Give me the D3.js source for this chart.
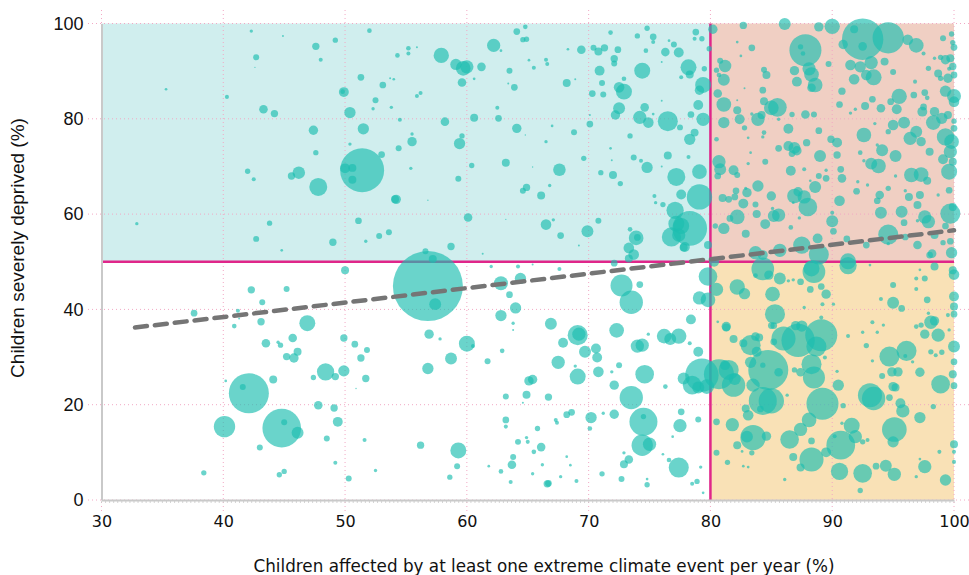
<!DOCTYPE html>
<html>
<head>
<meta charset="utf-8">
<script src="https://cdn.jsdelivr.net/npm/d3@7"></script>
<style>
  html, body { margin: 0; padding: 0; background: #fff; }
  svg { display: block; }
</style>
</head>
<body>
<div id="chart"></div>
<script>
// [affected %, deprived %, children (relative size)]
const topLeft = [
  [42.3,98.4,0.23],[44.9,97.4,0.08],[47.6,95.2,1.1],[49.2,96.5,0.58],[52.0,98.5,0.44],[42.7,92.9,0.73],[42.6,90.8,0.04],[48.0,92.4,0.33],
  [35.3,86.2,0.15],[40.3,84.6,0.33],[43.3,82.0,1.5],[44.2,81.1,1.1],[49.9,85.6,2.0],[49.8,85.7,0.44],[50.4,81.3,2.6],[51.3,88.7,0.91],
  [53.1,87.1,0.91],[53.7,88.5,0.08],[54.0,88.3,0.15],[52.5,83.9,0.73],[52.3,82.1,0.23],[53.8,82.4,0.23],[47.4,77.6,1.8],[51.5,77.9,2.6],
  [50.4,74.7,0.23],[47.6,72.9,0.58],[53.0,72.5,0.91],[51.4,69.2,39.5],[50.0,69.6,2.0],[50.6,69.7,1.3],[50.6,67.2,1.3],[42.0,69.0,0.58],
  [42.5,67.3,0.33],[46.2,68.7,3.2],[45.6,68.0,1.1],[47.8,65.7,6.6],[54.1,63.1,1.3],[32.9,58.0,0.23],[43.8,58.1,0.58],[42.7,54.8,0.73],
  [44.8,52.4,0.15],[49.0,54.1,1.1],[51.1,58.6,0.91],[52.8,55.4,0.73],[53.6,56.2,0.73],[51.7,54.3,0.23],
  [64.1,98.3,0.91],[64.8,99.3,0.44],[64.6,96.6,0.58],[64.9,96.7,0.58],[62.2,95.4,3.6],[62.8,94.3,0.15],[57.9,93.3,4.8],[55.2,94.8,0.44],
  [55.2,93.7,0.33],[55.9,95.0,0.08],[54.3,93.3,0.44],[59.1,91.4,2.6],[59.7,90.6,4.4],[60.0,90.9,3.6],[59.6,87.6,1.5],[61.2,90.9,1.5],
  [60.6,88.4,0.15],[63.5,90.1,0.73],[63.9,86.6,0.91],[63.4,87.4,0.08],[65.1,92.3,0.15],[65.5,90.7,0.33],[66.5,92.4,0.33],[66.6,91.5,0.33],
  [68.3,94.6,0.15],[69.4,94.5,1.5],[68.2,87.5,1.3],[68.9,88.3,0.08],[55.9,84.8,0.33],[56.2,85.4,0.33],[54.5,79.8,0.33],[58.2,79.4,1.5],
  [60.6,80.2,1.3],[62.5,82.3,0.33],[62.6,80.1,0.91],[64.1,78.0,1.8],[67.0,78.5,0.15],[68.8,77.2,0.73],[70.1,78.9,0.91],[70.1,80.8,0.08],
  [64.8,76.6,0.04],[66.5,75.2,0.23],[55.5,76.8,0.23],[55.5,75.2,1.8],[59.6,76.4,0.58],[59.4,74.8,2.6],[54.4,73.8,0.73],[60.4,70.2,0.58],
  [63.2,70.8,1.3],[65.4,69.9,0.04],[67.6,69.3,3.2],[69.6,71.7,0.58],[55.4,69.6,0.23],[59.3,67.4,0.73],[64.6,64.9,0.73],[64.9,65.6,1.1],
  [66.8,66.0,0.23],[66.1,63.9,1.3],[54.2,63.1,1.8],[56.8,62.9,0.04],[60.1,59.3,1.5],[63.2,58.9,0.04],[66.5,57.8,2.3],[67.1,58.8,0.23],
  [67.7,55.5,0.91],[58.7,53.2,1.1],[61.3,51.7,0.08],[56.6,52.2,0.73],[57.2,50.6,1.3],[69.9,56.4,2.9],[70.8,58.6,0.73],[69.2,53.4,0.08],
  [71.8,98.1,0.44],[70.4,94.9,0.73],[70.8,94.1,1.3],[71.3,94.9,1.1],[72.4,94.5,0.91],[74.0,97.4,0.58],[74.8,99.0,0.58],[75.3,97.2,0.91],
  [75.3,96.1,0.33],[74.7,94.3,0.44],[76.3,94.0,1.5],[76.6,96.4,0.15],[77.0,95.6,0.73],[77.4,93.9,2.0],[72.1,92.6,1.1],[72.1,91.6,0.73],
  [70.9,90.1,2.0],[71.1,87.5,0.73],[74.4,90.1,5.2],[72.9,88.4,0.44],[72.5,86.6,2.3],[72.9,85.7,5.2],[70.3,85.3,0.91],[71.2,85.1,0.73],
  [76.0,91.9,0.08],[77.6,88.7,0.33],[72.5,82.2,2.9],[72.2,80.8,1.8],[74.6,82.4,1.5],[74.2,80.3,3.6],[74.9,79.2,2.3],[76.5,79.5,8.2],
  [77.5,78.2,0.73],[76.0,83.8,0.08],[75.3,81.0,0.15],[73.4,76.4,0.58],[71.8,73.8,0.15],[73.7,71.9,0.73],[74.3,71.2,0.33],[74.8,69.8,2.6],
  [71.9,71.3,0.08],[76.5,72.3,1.3],[76.0,70.0,0.08],[72.0,68.2,1.3],[72.6,66.4,0.58],[71.0,68.7,0.58],[77.2,67.8,6.6],[77.6,64.1,2.0],
  [75.4,63.8,0.33],[75.5,62.4,0.23],[76.1,62.0,0.58],[77.1,60.8,6.1],[77.2,58.0,5.2],[77.6,57.5,5.2],[76.8,55.2,7.6],[77.4,55.6,3.6],
  [77.8,53.0,1.3],[73.9,55.0,4.4],[74.0,55.1,0.91],[73.4,56.8,0.44],[73.3,52.9,2.3],[73.7,51.5,2.3],[73.3,50.7,1.3],
  [78.2,90.8,5.2],[78.3,89.3,1.3],[78.8,98.2,0.91],[79.3,96.8,0.58],[78.7,96.8,0.33],[79.5,90.5,0.58],[79.4,87.1,5.2],[79.1,86.0,1.8],
  [79.0,82.9,2.0],[79.4,79.9,3.6],[78.4,80.9,0.91],[78.7,77.1,1.3],[78.3,75.7,2.6],[78.2,72.0,0.33],[79.1,68.9,4.4],[79.1,63.6,13.1],
  [78.3,57.0,24.5],[79.8,53.5,1.3],[77.9,53.1,2.0],[79.9,94.7,0.58]
];

const topRight = [
  [80.2,98.8,1.8],[82.7,99.6,1.1],[86.1,99.9,2.9],[88.9,99.3,1.8],[90.0,99.4,4.8],[87.8,94.4,20.9],[87.4,95.1,0.58],[87.6,93.7,0.44],
  [92.5,96.7,34.9],[94.6,97.0,20.0],[91.8,98.8,1.3],[92.5,95.2,1.5],[90.9,95.6,1.8],[96.2,96.6,2.3],[96.9,95.4,4.4],[83.4,94.9,0.91],
  [82.2,96.1,0.15],[82.5,93.2,0.15],[81.2,91.1,3.2],[80.8,92.2,0.73],[80.5,90.2,0.58],[80.7,89.2,0.44],[81.1,88.2,2.9],[84.4,90.3,0.73],
  [84.6,89.2,1.3],[86.9,90.1,1.8],[88.1,90.5,3.6],[88.3,89.3,4.4],[87.1,87.8,2.0],[88.6,87.1,4.4],[88.3,86.5,1.5],[89.7,91.5,0.73],
  [91.5,91.3,2.3],[92.3,90.9,2.6],[93.2,91.8,3.6],[93.4,88.7,5.2],[92.8,89.2,2.3],[91.8,88.3,2.3],[94.3,92.0,1.3],[95.0,89.8,0.73],
  [97.5,93.7,0.33],[98.4,92.7,0.23],[98.9,92.9,0.58],[99.1,96.9,0.73],[99.8,97.8,0.58],[99.9,96.0,0.58],[100.0,95.0,0.91],[99.3,92.4,1.8],
  [99.7,92.7,1.3],[99.9,91.0,1.1],[100.0,89.2,0.91],[98.7,89.5,1.3],[97.9,90.6,0.58],[96.8,87.8,0.33],[97.6,85.5,0.91],[99.3,85.8,2.6],
  [100.0,84.8,4.0],[100.0,83.6,2.3],[96.7,85.0,0.91],[95.5,84.7,4.8],[94.8,83.6,0.91],[93.3,84.1,0.91],[92.7,82.7,1.3],[94.0,82.2,1.5],
  [95.3,82.0,2.0],[90.8,85.8,1.1],[90.6,83.0,0.91],[91.5,81.2,0.23],[91.9,82.0,0.23],[84.3,86.0,0.91],[84.4,83.7,1.3],[85.0,82.3,4.4],
  [85.5,82.4,7.1],[82.2,81.8,1.3],[82.2,83.9,0.08],[82.8,86.4,0.08],[81.1,83.0,4.4],[80.6,85.3,1.5],[81.1,79.2,2.6],[82.4,79.9,2.0],
  [83.9,79.9,3.6],[84.2,80.8,1.3],[82.8,78.1,0.58],[85.6,79.9,0.23],[86.7,80.9,0.58],[87.8,80.9,1.5],[88.5,80.9,0.73],[86.4,77.9,2.0],
  [88.9,77.5,0.91],[84.4,77.1,0.44],[84.3,76.2,0.23],[83.1,76.0,0.15],[80.5,75.7,0.44],[86.4,74.3,2.0],[86.9,73.9,2.9],[87.1,73.3,1.8],
  [86.7,72.7,0.91],[85.6,73.8,0.91],[87.9,75.0,1.1],[89.0,72.2,2.9],[89.9,75.7,1.1],[90.4,75.0,2.0],[90.4,72.4,1.1],[92.6,76.6,4.4],
  [92.3,72.9,0.44],[92.6,71.2,0.23],[93.2,70.6,2.9],[93.8,70.1,4.4],[94.1,73.4,2.9],[95.2,72.2,2.9],[93.7,74.5,0.23],[94.6,77.3,0.58],
  [95.0,78.7,2.3],[95.9,79.2,2.9],[96.9,77.3,2.9],[96.4,75.9,3.6],[97.3,75.2,1.8],[98.0,73.1,1.3],[98.3,79.2,4.4],[99.0,80.1,2.6],
  [98.4,81.5,1.8],[99.5,80.8,1.3],[99.3,76.2,6.1],[99.8,75.2,4.4],[99.7,73.1,3.6],[99.1,71.5,2.0],[99.9,71.0,1.3],[99.6,68.9,5.2],
  [100.0,78.0,0.91],[100.0,79.5,0.58],[96.5,68.2,4.4],[97.3,68.3,4.4],[97.8,67.0,1.3],[95.2,68.0,0.23],[93.9,64.0,1.5],[94.6,65.4,0.58],
  [93.7,62.8,0.91],[94.0,60.3,2.9],[95.7,60.5,2.9],[96.0,64.9,0.23],[96.3,63.6,1.3],[97.0,61.9,1.3],[97.6,59.4,3.6],[97.9,58.4,3.6],
  [97.2,64.0,1.3],[98.7,64.0,0.23],[99.6,65.0,0.91],[99.7,60.1,8.2],[99.9,61.5,1.3],[98.4,55.6,1.3],[99.3,57.5,0.91],[99.7,54.3,0.91],
  [99.1,54.0,0.58],[99.8,51.9,2.6],[98.2,51.7,1.5],[98.0,51.4,0.91],[94.6,55.7,8.2],[95.9,58.2,0.91],[97.0,53.5,1.5],[97.0,58.6,0.23],
  [92.0,64.8,0.91],[90.6,62.8,2.3],[90.0,58.5,2.9],[90.1,56.4,0.91],[90.8,67.5,1.5],[90.7,69.4,0.91],[89.5,67.5,0.91],[88.6,65.7,2.9],
  [89.5,69.2,0.23],[88.9,68.0,0.73],[88.2,67.0,0.15],[86.6,69.1,2.0],[87.7,69.4,0.33],[87.7,63.6,3.6],[88.0,61.5,7.1],[86.9,63.8,4.4],
  [87.2,64.7,1.8],[86.8,62.4,0.15],[87.3,59.2,0.23],[85.0,63.8,1.8],[83.9,65.9,2.6],[83.0,64.5,1.8],[82.1,64.9,0.91],[82.0,63.6,0.91],
  [81.0,63.4,1.3],[81.5,63.1,0.91],[82.7,62.2,2.0],[83.7,62.0,0.73],[83.8,60.0,1.3],[82.2,59.4,4.4],[81.6,59.1,0.91],[81.1,57.0,2.6],
  [80.4,57.5,0.58],[84.5,57.9,2.0],[85.2,59.6,2.9],[85.6,59.8,3.6],[85.1,61.2,0.23],[82.9,55.9,1.3],[86.6,57.2,0.44],[90.0,60.3,0.33],
  [88.8,54.9,2.0],[87.5,53.5,6.1],[88.9,51.5,8.2],[91.2,54.8,0.91],[91.3,50.1,5.2],[85.7,52.4,3.6],[84.3,51.4,2.0],[83.7,51.9,3.6],
  [80.3,50.0,2.0],[83.4,81.0,0.23],[83.3,72.9,0.15],[83.1,70.6,0.23],[84.5,71.0,0.73],[81.9,69.2,2.0],[80.7,71.0,3.6],[80.8,69.4,2.9],
  [82.2,68.2,0.73],[80.6,68.0,0.91],[82.9,65.4,0.23],[97.8,84.4,0.44],[97.5,82.5,0.91],[97.4,81.5,2.0],[99.6,90.5,0.33],[99.5,88.5,1.8],
  [98.9,88.5,0.58],[92.1,66.8,0.23],[92.9,66.1,0.23],[94.6,53.8,0.23],[94.0,55.0,0.23],[92.8,53.5,0.91],[96.0,55.2,0.91],[93.5,79.0,0.23]
];

const bottomLeft = [
  [50.0,48.2,1.3],[42.3,44.1,1.1],[45.2,44.3,0.73],[43.2,41.5,0.73],[37.6,39.2,0.91],[41.2,39.7,0.33],[41.3,38.1,0.08],[40.9,36.5,0.44],
  [43.1,37.4,1.1],[46.9,37.1,5.2],[43.5,32.9,1.5],[44.5,33.1,0.23],[44.7,32.5,0.58],[45.7,34.0,1.5],[46.1,31.1,1.3],[45.2,30.1,1.1],
  [45.8,29.8,1.8],[49.9,34.0,1.1],[50.8,32.7,0.91],[51.8,31.5,0.73],[51.3,29.8,1.1],[48.4,26.9,6.1],[49.9,27.1,2.6],[49.2,25.9,1.1],
  [47.4,25.7,0.58],[51.7,25.5,1.1],[44.1,25.3,1.3],[40.2,25.0,0.15],[42.1,22.4,32.7],[41.6,23.7,0.73],[40.1,15.4,9.3],[44.8,15.1,30.5],
  [45.0,16.3,0.73],[46.1,14.1,2.9],[47.8,19.9,1.5],[49.1,19.3,1.1],[49.4,16.4,2.0],[50.9,23.4,0.04],[43.0,11.0,0.73],[48.5,12.9,0.73],
  [51.6,12.6,0.33],[49.2,7.8,0.33],[38.4,5.7,0.58],[44.6,5.3,0.58],[45.0,6.0,0.58],[50.3,4.5,0.73],[52.5,6.2,0.23],
  [56.8,44.9,100],[57.4,41.1,2.9],[56.9,34.8,1.8],[57.8,33.8,0.23],[56.8,27.6,2.6],[58.7,29.7,2.9],[60.0,32.8,5.2],[60.5,32.3,0.33],
  [61.7,29.1,0.73],[62.9,31.3,0.44],[62.0,49.0,0.23],[64.2,49.0,0.33],[65.4,49.4,0.08],[67.6,48.5,0.33],[62.8,45.5,4.0],[64.4,46.5,2.6],
  [63.5,43.1,0.91],[64.0,40.3,2.6],[62.8,38.7,2.6],[63.8,37.1,0.23],[63.8,35.7,0.08],[66.9,37.0,2.9],[69.1,34.6,8.2],[69.2,34.8,3.6],
  [67.9,33.0,2.0],[69.7,31.1,2.9],[70.6,31.8,2.0],[70.7,29.9,2.0],[67.5,28.9,3.6],[69.1,25.9,5.2],[70.8,26.9,2.3],[68.9,28.1,0.23],
  [65.1,25.0,1.8],[65.4,25.3,1.8],[64.9,22.1,1.3],[63.2,21.7,0.73],[66.7,21.6,1.1],[64.6,20.4,0.08],[63.2,16.8,0.91],[63.2,15.4,0.33],
  [65.8,15.0,0.58],[67.3,16.8,0.33],[67.4,16.2,0.33],[68.2,17.9,0.91],[68.6,18.4,0.91],[70.2,17.3,2.6],[70.1,15.0,0.44],[71.2,18.2,0.23],
  [72.1,18.0,1.8],[64.2,12.2,0.73],[64.9,13.1,0.23],[65.0,12.2,0.33],[66.1,11.1,1.5],[65.5,10.1,0.44],[63.8,9.0,0.73],[63.7,7.4,1.5],
  [61.8,7.1,0.15],[62.8,6.0,0.44],[63.6,3.8,0.33],[65.4,5.5,0.23],[66.2,7.4,0.23],[66.6,3.4,1.1],[66.7,3.5,0.91],[67.7,4.9,0.23],
  [69.0,4.0,0.33],[56.2,11.5,1.1],[59.3,10.4,5.2],[59.2,7.1,0.73],[58.6,4.8,0.58],[68.2,9.1,0.15],[68.5,7.3,0.15],[71.1,5.5,0.58],
  [72.7,4.4,0.73],[74.8,3.2,0.58],[74.8,4.4,0.15],[72.9,7.5,1.3],[73.3,8.5,1.5],[72.9,9.9,0.23],[72.7,45.0,9.9],[73.5,41.5,11.1],
  [74.2,45.2,0.91],[72.1,49.7,0.91],[72.3,35.6,4.4],[74.9,34.8,0.23],[72.5,28.3,0.73],[71.9,26.9,0.23],[72.1,24.1,1.8],[74.6,26.4,7.1],
  [73.5,21.5,11.1],[74.5,16.4,16],[74.5,17.5,0.58],[74.4,11.5,9.3],[75.0,11.7,3.6],[76.3,23.8,0.44],[76.2,34.4,4.4],[76.7,33.8,2.9],
  [77.4,34.4,4.8],[74.4,32.5,3.6],[74.0,32.3,3.6],[77.8,25.5,2.9],[77.6,18.5,0.91],[77.5,15.6,3.6],[77.4,6.8,8.2],[76.6,8.4,0.44],
  [76.9,13.3,0.15],[76.1,9.6,0.15],
  [79.8,46.9,7.1],[79.1,42.4,3.6],[79.8,42.0,4.4],[78.4,37.9,2.0],[78.3,32.9,0.33],[79.0,31.1,2.0],[79.3,26.2,22.7],[78.5,24.1,7.1],
  [79.7,23.8,4.4],[79.0,23.6,2.9],[79.0,16.9,0.73],[79.2,6.9,0.23],[78.9,3.9,0.58],[78.5,3.4,0.33],[79.4,1.5,0.15]
];

const bottomRight = [
  [80.5,44.2,3.6],[80.7,26.4,18.4],[81.5,27.3,8.2],[81.9,24.1,11.1],[82.0,25.4,2.9],[81.2,28.3,2.0],
  [82.2,44.7,4.8],[82.8,43.3,2.6],[83.7,47.1,0.44],[84.3,48.5,10.5],[84.8,47.2,1.8],[85.7,46.5,2.9],[85.1,43.2,4.4],[85.3,39.0,8.2],
  [87.4,45.8,0.91],[88.2,44.2,0.91],[88.5,47.9,10.5],[88.3,48.6,5.2],[89.1,44.8,0.91],[89.5,43.2,1.8],[86.4,46.0,0.23],[86.8,46.2,0.23],
  [89.2,41.1,0.33],[87.7,40.4,0.23],[90.1,41.1,0.23],[91.3,49.2,6.1],[93.1,49.3,0.15],[95.0,45.1,0.73],[96.9,44.3,0.33],[96.9,46.5,0.33],
  [97.6,46.5,0.73],[97.2,48.3,0.15],[98.4,49.0,1.3],[100.0,47.3,2.3],[99.9,48.2,1.3],[94.0,42.2,0.33],[95.0,41.4,2.9],[95.7,40.2,0.91],
  [97.8,42.0,0.91],[100.0,42.7,2.0],[100.0,40.6,1.3],[100.0,39.0,0.91],[99.5,38.8,0.33],[97.9,39.2,0.23],[98.1,37.3,3.6],[98.4,37.6,1.8],
  [97.6,34.8,1.8],[96.9,36.4,0.44],[98.7,34.6,3.6],[99.6,35.7,0.23],[100.0,32.2,2.9],[98.1,31.1,0.58],[98.5,30.4,0.33],[99.0,31.0,0.58],
  [94.7,30.1,8.2],[96.1,31.3,8.2],[96.0,30.2,0.33],[96.6,29.0,0.23],[97.2,26.8,1.8],[98.9,24.3,7.1],[99.9,26.4,1.3],[100.0,29.0,0.91],
  [100.0,24.0,0.91],[94.9,26.9,1.8],[95.4,26.9,1.8],[94.1,26.0,0.73],[93.3,29.2,0.23],[95.0,23.8,1.8],[95.2,23.6,1.3],[93.1,22.0,11.8],
  [93.4,21.3,11.1],[94.7,21.5,0.91],[95.6,20.3,2.0],[95.8,18.7,3.6],[97.2,17.3,2.6],[98.3,19.6,0.58],[95.1,14.8,12.4],[95.0,12.2,2.6],
  [91.9,13.3,3.6],[91.6,15.6,5.2],[90.7,11.5,16.8],[92.5,12.2,0.58],[92.9,12.6,0.33],[90.5,24.1,2.6],[90.9,19.8,0.58],[90.4,27.0,0.23],
  [89.2,20.2,20.9],[88.1,16.8,4.4],[87.4,14.8,3.6],[86.5,12.7,7.1],[88.3,12.4,0.91],[88.3,8.5,11.8],[87.4,6.8,1.3],[86.8,9.0,1.3],
  [89.5,10.0,2.0],[90.6,6.0,6.1],[92.5,5.6,7.1],[92.3,2.0,0.58],[93.6,7.1,0.91],[94.4,7.2,2.9],[95.1,5.4,3.6],[97.6,7.0,3.6],
  [99.3,4.2,2.6],[100.0,11.7,1.3],[100.0,10.1,0.33],[100.0,8.0,0.33],[98.8,10.1,0.33],[96.9,4.9,0.23],[97.2,8.6,0.15],[83.5,13.1,13.1],
  [83.0,13.3,2.9],[84.6,13.4,1.8],[82.2,11.5,1.3],[81.8,15.8,3.6],[80.5,16.4,0.91],[80.5,9.9,0.73],[81.4,7.9,0.58],[83.4,9.9,0.58],
  [83.1,17.8,2.3],[82.9,19.2,1.3],[84.3,20.8,16],[85.0,20.8,13.1],[84.1,19.1,0.91],[83.5,24.1,3.6],[84.75,27.3,32.7],[85.6,26.8,1.5],
  [84.3,28.3,0.58],[83.3,28.9,2.6],[83.8,31.1,2.0],[83.3,32.5,8.2],[82.7,32.9,1.3],[81.9,33.8,1.3],[81.3,36.2,1.3],[86.0,33.9,11.8],
  [87.2,33.5,22.7],[89.1,34.6,20.9],[88.7,32.2,8.2],[88.3,28.5,8.2],[88.5,25.7,9.9],[87.5,36.5,2.6],[87.0,36.6,1.8],[85.2,33.2,0.91],
  [85.2,36.6,0.91],[86.9,27.3,0.58],[87.4,26.8,1.5],[86.3,22.0,0.23],[89.1,38.3,0.33],[89.4,29.9,0.33],[91.3,34.4,0.33],[92.8,32.4,0.58],
  [93.7,35.2,0.23],[92.5,35.2,0.23],[94.2,36.7,0.23],[93.3,37.3,0.33],[97.3,36.7,0.58],[83.7,34.3,1.5],[84.0,34.1,1.3],[85.0,36.6,0.91],
  [80.6,37.4,0.15],[81.3,36.4,1.8],[82.6,10.2,0.15],[83.1,6.9,0.15],[82.7,7.1,0.15],[86.1,4.3,0.23],[90.2,13.4,0.33],[90.8,16.1,0.23]
];

const xTicks = [30, 40, 50, 60, 70, 80, 90, 100];
const yTicks = [0, 20, 40, 60, 80, 100];
const thresholdX = 80;
const thresholdY = 50;
const trendEnds = [[32.75, 36.2], [100, 56.6]];
const quadrants = [
  { x0: 30, x1: 80, y0: 50, y1: 100, key: "tl" },
  { x0: 80, x1: 100, y0: 50, y1: 100, key: "tr" },
  { x0: 80, x1: 100, y0: 0, y1: 50, key: "br" }
];
const xTitle = "Children affected by at least one extreme climate event per year (%)";
const yTitle = "Children severely deprived (%)";

const COLORS = {
  tl: "#d0eeee",
  tr: "#f0cfc3",
  br: "#f9e1b6",
  grid: "#f2a8c4",
  threshold: "#e0268a",
  dot: "#1dbdb0",
  trend: "#757575",
  axis: "#c9c9c9",
  text: "#111"
};

const width = 969;
const height = 575;

const x = d3.scaleLinear().domain([30, 100]).range([101.5, 954]);
const y = d3.scaleLinear().domain([0, 100]).range([500, 23.5]);
const r = d3.scaleSqrt().domain([0, 100]).range([0, 35]);

const svg = d3.select("#chart").append("svg")
  .attr("width", width)
  .attr("height", height);

// quadrant backgrounds
svg.append("g").selectAll("rect")
  .data(quadrants)
  .join("rect")
  .attr("x", (d) => x(d.x0))
  .attr("y", (d) => y(d.y1))
  .attr("width", (d) => x(d.x1) - x(d.x0))
  .attr("height", (d) => y(d.y0) - y(d.y1))
  .attr("fill", (d) => COLORS[d.key]);

// dotted grid
const grid = svg.append("g")
  .attr("stroke", COLORS.grid)
  .attr("stroke-width", 1)
  .attr("stroke-dasharray", "1,3");

grid.selectAll(".gx")
  .data(xTicks)
  .join("line")
  .attr("class", "gx")
  .attr("x1", (d) => x(d)).attr("x2", (d) => x(d))
  .attr("y1", 10).attr("y2", 512);

grid.selectAll(".gy")
  .data(yTicks)
  .join("line")
  .attr("class", "gy")
  .attr("x1", 88).attr("x2", width)
  .attr("y1", (d) => y(d)).attr("y2", (d) => y(d));

// threshold lines
const thr = svg.append("g")
  .attr("stroke", COLORS.threshold)
  .attr("stroke-width", 2.5);
thr.append("line")
  .attr("x1", x(thresholdX)).attr("x2", x(thresholdX))
  .attr("y1", y(100)).attr("y2", y(0));
thr.append("line")
  .attr("x1", x(30)).attr("x2", x(100))
  .attr("y1", y(thresholdY)).attr("y2", y(thresholdY));

// bubbles
const points = [...topLeft, ...topRight, ...bottomLeft, ...bottomRight]
  .sort((a, b) => b[2] - a[2]);

svg.append("g")
  .selectAll("circle")
  .data(points)
  .join("circle")
  .attr("cx", (d) => x(d[0]))
  .attr("cy", (d) => y(d[1]))
  .attr("r", (d) => Math.max(r(d[2]), 0.6))
  .attr("fill", COLORS.dot)
  .attr("fill-opacity", 0.66);

// trend line
svg.append("path")
  .datum(trendEnds)
  .attr("d", d3.line().x((d) => x(d[0])).y((d) => y(d[1])))
  .attr("fill", "none")
  .attr("stroke", COLORS.trend)
  .attr("stroke-width", 4.5)
  .attr("stroke-linecap", "round")
  .attr("stroke-dasharray", "12,8");

// axes
const axisX = svg.append("g")
  .attr("transform", `translate(0,${y(0)})`)
  .call(d3.axisBottom(x).tickValues(xTicks).tickSize(0).tickPadding(16));
axisX.select(".domain").attr("stroke", COLORS.axis).attr("stroke-width", 2);
axisX.selectAll("text")
  .attr("font-family", "DejaVu Sans, sans-serif")
  .attr("font-size", 16)
  .attr("fill", COLORS.text);

axisX.append("g")
  .selectAll("line")
  .data(d3.range(0, 211))
  .join("line")
  .attr("x1", (i) => x(30 + i / 3)).attr("x2", (i) => x(30 + i / 3))
  .attr("y1", 1).attr("y2", 3)
  .attr("stroke", COLORS.axis)
  .attr("stroke-width", 0.8);

const axisY = svg.append("g")
  .attr("transform", `translate(${x(30)},0)`)
  .call(d3.axisLeft(y).tickValues(yTicks).tickSize(0).tickPadding(18));
axisY.select(".domain").attr("stroke", COLORS.axis).attr("stroke-width", 2);
axisY.selectAll("text")
  .attr("font-family", "Liberation Sans, Arial, sans-serif")
  .attr("font-size", 18)
  .attr("fill", COLORS.text);

// titles
svg.append("text")
  .attr("x", 544)
  .attr("y", 572)
  .attr("text-anchor", "middle")
  .attr("font-family", "DejaVu Sans, sans-serif")
  .attr("font-size", 16.8)
  .attr("fill", COLORS.text)
  .text(xTitle);

svg.append("text")
  .attr("transform", `translate(24,${248}) rotate(-90)`)
  .attr("text-anchor", "middle")
  .attr("font-family", "Liberation Sans, Arial, sans-serif")
  .attr("font-size", 19)
  .attr("fill", COLORS.text)
  .text(yTitle);
</script>
</body>
</html>
